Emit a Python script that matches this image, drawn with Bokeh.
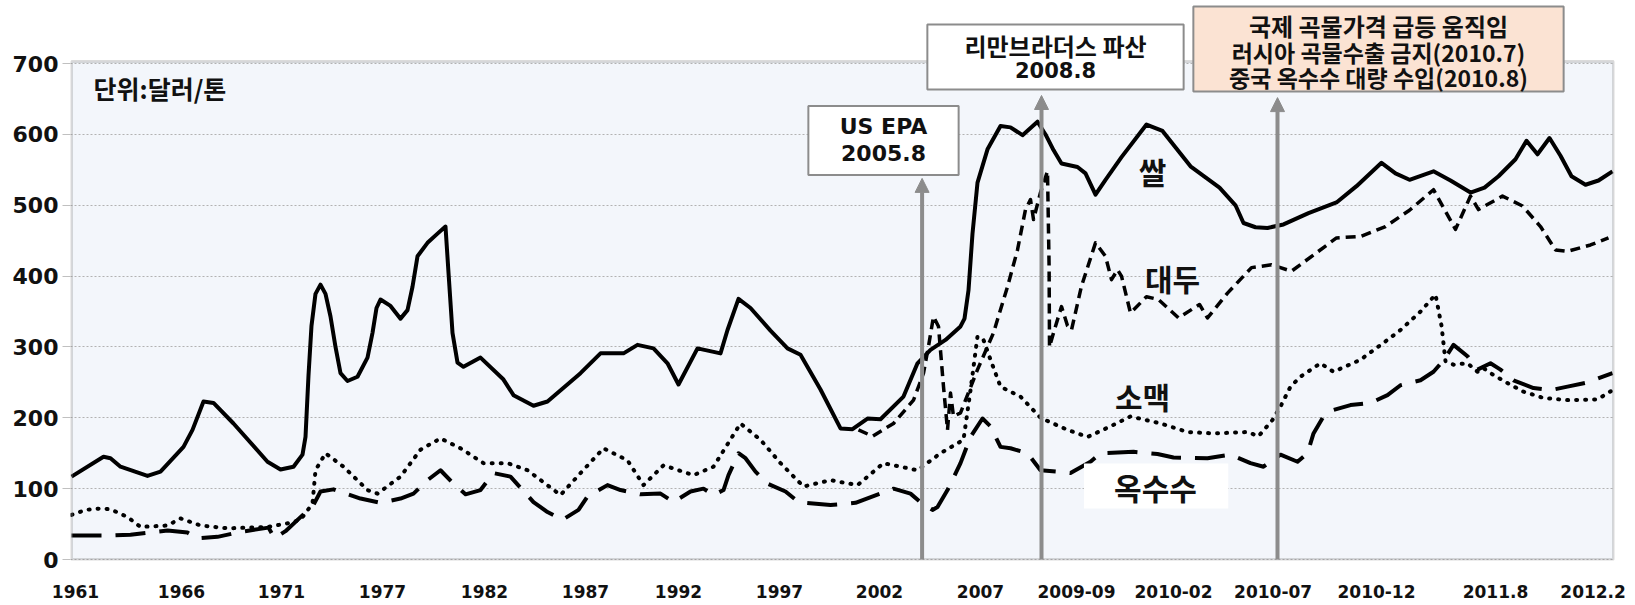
from bokeh.plotting import figure
from bokeh.models import (Range1d, FixedTicker, CustomJSTickFormatter, Label,
                          Arrow, NormalHead, BoxAnnotation)
from bokeh.embed import file_html
from bokeh.resources import INLINE

# ---------------- data (period index on a category axis, USD/ton) ----------------
tick_pos = [0.2, 5.5, 10.5, 15.55, 20.65, 25.7, 30.35, 35.4, 40.4, 45.45,
            50.25, 55.1, 60.08, 65.25, 71.2, 76.08]
tick_labels = ["1961", "1966", "1971", "1977", "1982", "1987", "1992", "1997",
               "2002", "2007", "2009-09", "2010-02", "2010-07", "2010-12",
               "2011.8", "2012.2"]
y_ticks = [0, 100, 200, 300, 400, 500, 600, 700]

rice_x = [0.00, 1.60, 1.95, 2.45, 3.80, 4.45, 5.60, 6.05, 6.60, 7.10, 8.10, 9.80, 10.45,
          11.10, 11.55, 11.70, 11.85, 12.00, 12.20, 12.45, 12.70, 12.95, 13.20, 13.45,
          13.80, 14.30, 14.80, 15.05, 15.25, 15.45, 15.95, 16.45, 16.80, 17.05, 17.30,
          17.80, 18.30, 18.70, 18.85, 19.05, 19.30, 19.60, 20.45, 21.60, 22.10, 23.10,
          23.80, 25.45, 26.45, 27.60, 28.30, 29.10, 29.80, 30.35, 31.30, 32.45, 32.80,
          33.35, 33.95, 34.95, 35.80, 36.45, 37.45, 38.45, 39.05, 39.80, 40.45, 41.60,
          42.30, 42.95, 43.70, 44.45, 44.65, 44.85, 45.05, 45.30, 45.80, 46.45, 46.95,
          47.55, 48.30, 48.70, 49.10, 49.50, 50.30, 50.70, 51.20, 51.70, 52.50, 53.75,
          54.55, 55.95, 57.40, 58.20, 58.60, 59.20, 59.80, 60.60, 61.85, 63.25, 64.25,
          65.50, 66.20, 66.90, 68.10, 68.95, 69.95, 70.65, 71.35, 72.20, 72.75, 73.30,
          73.90, 74.45, 75.00, 75.70, 76.35, 77.05]
rice = [117, 145, 143, 131, 118, 124, 159, 183, 223, 221, 192, 138, 127, 131, 148, 173,
        260, 330, 375, 388, 375, 343, 300, 263, 252, 258, 285, 320, 355, 367, 358, 340,
        352, 385, 428, 447, 460, 470, 405, 320, 278, 272, 285, 254, 232, 217, 223, 263,
        291, 291, 303, 298, 277, 247, 298, 291, 324, 368, 355, 323, 298, 289, 240, 185,
        184, 199, 198, 230, 277, 296, 310, 329, 340, 380, 460, 532, 579, 612, 610, 599,
        618, 600, 578, 559, 554, 545, 515, 536, 568, 614, 605, 555, 525, 500, 475, 469,
        468, 473, 489, 504, 527, 560, 545, 536, 548, 535, 518, 525, 541, 565, 591, 572,
        595, 570, 541, 529, 535, 548]

soy_x = [39.35, 40.05, 41.10, 42.10, 42.60, 42.85, 43.10, 43.35, 43.60, 43.80, 43.95,
         44.10, 44.45, 45.30, 46.10, 46.80, 47.30, 47.70, 47.95, 48.10, 48.45, 48.80,
         48.88, 48.90, 49.10, 49.50, 49.80, 50.00, 50.50, 51.20, 51.70, 52.00, 52.30,
         52.50, 52.95, 53.75, 54.35, 55.35, 56.40, 56.80, 57.80, 59.00, 60.00, 61.00,
         62.25, 63.25, 64.45, 65.70, 66.90, 68.10, 69.20, 69.95, 70.35, 71.55, 72.55,
         73.45, 74.20, 74.80, 75.95, 76.85]
soybean = [183, 174, 192, 225, 263, 301, 343, 329, 244, 183, 235, 202, 207, 268, 320,
           385, 437, 494, 508, 480, 518, 548, 414, 300, 320, 357, 330, 324, 386, 447,
           428, 395, 409, 400, 348, 371, 367, 341, 360, 341, 376, 412, 416, 407, 433,
           454, 456, 470, 493, 522, 466, 513, 494, 513, 499, 470, 437, 435, 444, 454]

wheat_x = [0.00, 0.70, 1.45, 1.95, 2.80, 3.45, 4.80, 5.45, 6.45, 7.80, 9.80, 10.80, 11.45,
           12.05, 12.20, 12.70, 13.60, 14.80, 15.30, 16.45, 17.45, 18.45, 19.45, 20.60,
           21.80, 22.80, 24.45, 25.45, 26.60, 27.80, 28.60, 29.60, 31.10, 32.10, 33.45,
           34.45, 35.45, 36.60, 37.95, 39.30, 40.60, 42.30, 43.45, 44.60, 44.95, 45.30,
           45.60, 45.95, 46.45, 47.45, 48.45, 49.80, 50.80, 51.95, 52.95, 54.45, 55.80,
           57.10, 58.80, 59.35, 60.05, 60.45, 60.95, 61.45, 62.45, 63.10, 64.45, 65.80,
           66.45, 67.45, 68.20, 68.50, 68.70, 69.10, 69.80, 70.30, 70.60, 70.95, 71.80,
           72.60, 73.60, 74.80, 76.30, 77.05]
wheat = [63, 70, 72, 71, 60, 46, 48, 58, 48, 44, 46, 51, 56, 79, 126, 150, 131, 98, 93,
         117, 155, 171, 157, 136, 136, 126, 91, 122, 157, 140, 105, 133, 119, 131, 192,
         169, 136, 103, 112, 105, 136, 126, 150, 169, 239, 315, 310, 282, 244, 230, 200,
         183, 173, 188, 202, 192, 180, 178, 180, 174, 197, 216, 244, 258, 277, 265, 282,
         310, 324, 350, 374, 330, 280, 275, 277, 265, 270, 263, 249, 237, 228, 225, 226,
         239]

corn_x = [0.00, 2.10, 2.95, 4.80, 5.80, 6.30, 7.30, 8.45, 9.85, 10.15, 10.70, 12.10,
          12.45, 13.10, 14.45, 15.45, 16.45, 17.10, 17.80, 18.45, 19.10, 19.70, 20.45,
          21.10, 21.95, 23.10, 23.80, 24.55, 25.35, 25.80, 26.80, 27.45, 28.45, 29.45,
          30.10, 30.95, 31.60, 32.10, 32.60, 32.85, 33.35, 33.70, 34.20, 34.80, 35.70,
          36.35, 37.95, 39.20, 41.10, 41.95, 42.45, 43.05, 43.30, 43.80, 44.45, 44.95,
          45.55, 45.95, 46.45, 46.95, 47.80, 48.45, 49.30, 49.95, 50.95, 51.45, 53.10,
          54.30, 55.10, 56.80, 57.95, 58.95, 59.60, 60.45, 61.30, 61.80, 62.10, 62.60,
          63.10, 63.95, 64.95, 65.80, 66.45, 67.45, 68.10, 68.60, 69.10, 69.80, 70.30,
          70.95, 71.45, 72.10, 73.10, 73.95, 74.80, 75.80, 77.05]
corn = [34, 34, 35, 41, 38, 30, 32, 39, 45, 30, 40, 77, 96, 99, 86, 80, 86, 93, 112, 126,
        107, 92, 98, 122, 117, 81, 67, 56, 70, 89, 105, 98, 92, 93, 81, 96, 100, 91, 98,
        119, 150, 143, 124, 107, 96, 81, 77, 80, 100, 93, 81, 70, 74, 98, 136, 173, 199,
        188, 159, 157, 150, 126, 124, 122, 138, 150, 152, 149, 144, 143, 148, 136, 131,
        148, 138, 150, 178, 202, 211, 218, 221, 232, 246, 253, 265, 281, 303, 287, 268,
        277, 268, 253, 242, 239, 244, 250, 263]

# event markers (period index, arrow top value)
events = [(42.53, 538), (48.5, 655), (60.3, 652)]

# ---------------- figure ----------------
KR = "Noto Sans CJK KR"
LAT = "DejaVu Sans"
X0, X1 = 0.0, 77.1      # plotted period span
Y0, Y1 = 0, 703         # value span of the plot box
p = figure(width=1635, height=605, x_range=Range1d(-0.05, 77.15),
           y_range=Range1d(-1.41, 789.1),
           output_backend="svg", toolbar_location=None,
           min_border_left=70, min_border_right=21, min_border_top=0, min_border_bottom=45)
p.background_fill_color = "white"
p.border_fill_color = "white"
p.outline_line_color = None

# plot box background
p.add_layout(BoxAnnotation(left=X0, right=X1, bottom=Y0, top=Y1, fill_color="#f3f6fb",
                           fill_alpha=1, line_color=None, level="image"))

p.xgrid.visible = False
p.ygrid.grid_line_color = "#b2b2b2"
p.ygrid.grid_line_dash = "2 2"
p.ygrid.grid_line_width = 1

p.yaxis.ticker = FixedTicker(ticks=y_ticks)
p.yaxis.axis_line_color = None
p.yaxis.major_tick_out = 8
p.yaxis.major_tick_in = 0
p.yaxis.major_tick_line_color = "#c0c0c0"
p.yaxis.minor_tick_line_color = None
p.yaxis.major_label_standoff = 4
p.yaxis.major_label_text_font = LAT
p.yaxis.major_label_text_font_style = "bold"
p.yaxis.major_label_text_font_size = "22px"
p.yaxis.major_label_text_color = "#111111"

p.xaxis.ticker = FixedTicker(ticks=tick_pos)
p.xaxis.formatter = CustomJSTickFormatter(
    args=dict(pos=tick_pos, labs=tick_labels),
    code="const i = pos.findIndex(v => Math.abs(v - tick) < 1e-6); return i >= 0 ? labs[i] : '';")
p.xaxis.axis_line_color = None
p.xaxis.major_tick_out = 0
p.xaxis.major_tick_in = 0
p.xaxis.minor_tick_line_color = None
p.xaxis.major_label_standoff = 24
p.xaxis.major_label_text_font = LAT
p.xaxis.major_label_text_font_style = "bold"
p.xaxis.major_label_text_font_size = "17px"
p.xaxis.major_label_text_color = "#111111"

# series
p.line(corn_x, corn, line_color="black", line_width=4, line_dash="30 14", line_join="round")
p.line(wheat_x, wheat, line_color="black", line_width=4, line_dash="1 8", line_cap="round",
       line_join="round")
p.line(soy_x, soybean, line_color="black", line_width=3.5, line_dash="10 6", line_join="round")
p.line(rice_x, rice, line_color="black", line_width=4, line_join="round")

# frame line of the plot box
p.add_layout(BoxAnnotation(left=X0, right=X1, bottom=Y0, top=Y1, fill_color=None,
                           fill_alpha=0, line_color="#888888", line_width=3))

# event arrows
for ex, ey in events:
    p.add_layout(Arrow(x_start=ex, y_start=0, x_end=ex, y_end=ey, line_color="#8c8c8c",
                       line_width=4,
                       end=NormalHead(size=14, fill_color="#8c8c8c", line_color="#8c8c8c")))


def box(x, y, half_w, half_h, fill, border):
    p.add_layout(Label(x=x, y=y, text=" ", text_font_size="1px", text_align="center",
                       text_baseline="middle", background_fill_color=fill,
                       border_line_color=border, border_line_width=2,
                       padding=(half_w, half_h)))


def txt(x, y, t, font, size, align="center"):
    p.add_layout(Label(x=x, y=y, text=t, text_font=font, text_font_style="bold",
                       text_font_size=size, text_align=align, text_baseline="middle",
                       text_color="#111111"))


# unit label
txt(1.1, 666, "단위:달러/톤", KR, "25px", align="left")

# series labels
txt(54.05, 549, "쌀", KR, "30px")
txt(55.05, 397, "대두", KR, "30px")
txt(53.55, 231, "소맥", KR, "30px")
box(54.23, 103.8, 72, 22, "white", None)
txt(54.2, 103, "옥수수", KR, "30px")

# event boxes
box(40.6, 591.5, 75, 34, "white", "#8c8c8c")
txt(40.6, 611, "US EPA", LAT, "22px")
txt(40.6, 574.5, "2005.8", LAT, "22px")

box(49.2, 709.3, 128, 32, "white", "#8c8c8c")
txt(49.2, 725.6, "리만브라더스 파산", KR, "24px")
txt(49.2, 690.3, "2008.8", LAT, "21px")

box(65.35, 720.6, 185, 42, "#fbe3d3", "#8c8c8c")
txt(65.35, 753.8, "국제 곡물가격 급등 움직임", KR, "24px")
txt(65.35, 717.1, "러시아 곡물수출 금지(2010.7)", KR, "23px")
txt(65.35, 681.8, "중국 옥수수 대량 수입(2010.8)", KR, "23px")

open("out.html", "w").write(file_html(p, INLINE))
